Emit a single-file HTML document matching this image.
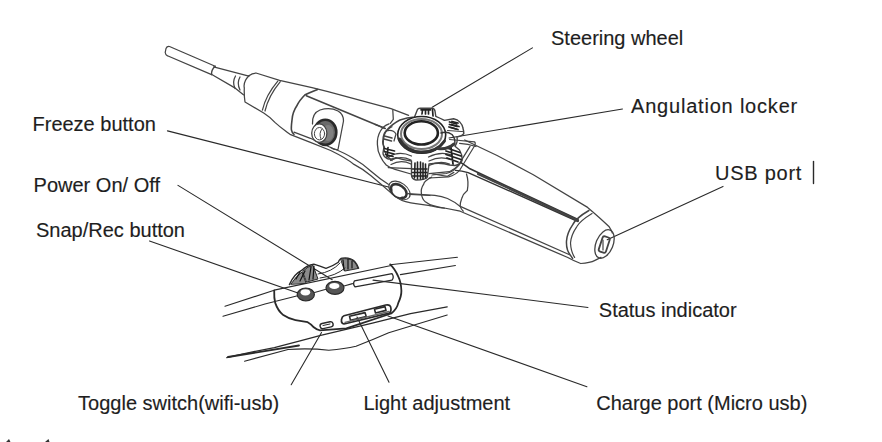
<!DOCTYPE html>
<html><head><meta charset="utf-8">
<style>
html,body{margin:0;padding:0;background:#fff;}
body{width:882px;height:442px;overflow:hidden;position:relative;}
svg{position:absolute;left:0;top:0;}
text{font-family:"Liberation Sans",sans-serif;font-size:20px;fill:#1e1e1e;stroke:#1e1e1e;stroke-width:0.15px;}
</style></head><body>
<svg width="882" height="442" viewBox="0 0 882 442">
<g fill="none" stroke="#2a2a2a" stroke-width="1.1" stroke-linecap="round" stroke-linejoin="round">
<!-- leader lines -->
<path d="M532.4,47.9 L432.2,107.2"/>
<path d="M622.5,109 L449,138"/>
<path d="M723,186.4 L607.2,239.7"/>
<path d="M167.5,130.9 L390.5,187.5" stroke-width="1.25"/>
<path d="M178,185.4 L332.2,279.7"/>
<path d="M149.5,241 L298,293"/>
<path d="M588,307.5 L373,280.1"/>
<path d="M321.5,332.5 L291.2,384.7"/>
<path d="M357,317 L389,382.3"/>
<path d="M388,315.9 L586.9,386.7"/>
<path d="M813.5,161.5 L813.5,183.5" stroke-width="1.4"/>
</g>

<!-- upper device -->
<g fill="none" stroke="#444" stroke-width="1.25" stroke-linecap="round" stroke-linejoin="round">
<!-- cable -->
<path d="M215.2,66.2 L169.5,46.5 Q167,46 166,48.5 L165.2,52.5 Q165.5,55 167.5,55.8 L211.6,74.6"/>
<path d="M215.2,66.2 Q211,70 211.6,74.6" stroke-width="1.4"/>
<!-- neck -->
<path d="M213.6,66.8 L248.9,76.2"/>
<path d="M211.8,74.5 L234.4,87.6 L243.4,94.8"/>
<path d="M235.5,76 Q232,82 235,88.5"/>
<path d="M240,77 Q236.5,83 240,90"/>
<!-- collar -->
<path d="M248.9,75.8 Q243,82 244.3,88 Q244,96 245,102 L263.7,113 Q270,117 274.9,122.4 Q280,127 284.9,130.5 Q288,133 290,134.3 L310.4,142.4 L330.7,150.5 Q346,158 354,164.4 Q363,169 371,175.8 Q382,185 390.4,192.4 Q395,197 398.5,198.5 Q402,201 405.6,201.6 Q411,203 415.8,203.6 L430,205.6"/>
<path d="M248.9,75.8 Q252,73 256,73 L279.6,80.3 L312,87.6 L328,91.7 L391,108.6 L408.6,115.3"/>
<path d="M277.8,81.2 Q266,95 262.4,110.2"/>
<path d="M280.3,81.7 Q268.5,96 265,111"/>
<!-- grip dark curve -->
<path d="M317.6,89.4 Q308,93 304.8,95 Q299,101 297.3,105 Q292.5,112 292,120 Q291,128 291.5,130.2 Q292,133 294,134.3" stroke-width="1.6"/>
<!-- side panel upper line -->
<path d="M306.3,95.8 L385.2,128.5" stroke-width="1.5"/>
<!-- panel front lower edge -->
<path d="M294,132.2 L310.4,138.3 L330.7,147.5 Q345,153 354,158.8 Q363,164 371,171.2 Q380,179 388.3,184.3"/>
<!-- bottom outline -->
<!-- camera button housing -->
<path d="M312.5,124 Q312,113 320,110 Q330,107 338,111 Q343.5,114 343.5,121 L338,149.5 Q334,150 330.7,147.5"/>
<ellipse cx="325.3" cy="132.3" rx="11" ry="12.6" fill="#6a6a6a" stroke="#2a2a2a" stroke-width="2.6"/>
<ellipse cx="328" cy="133" rx="5.5" ry="8" fill="#808080" stroke="none"/>
<ellipse cx="319.3" cy="133.2" rx="7.6" ry="9.3" fill="#fff" stroke-width="1.3"/>
<ellipse cx="319.5" cy="133.7" rx="5.1" ry="6.2" stroke-width="1"/>
<path d="M322,129 Q318.5,133 321,139" stroke-width="1"/>
<!-- freeze button -->
<ellipse cx="399.5" cy="190.4" rx="12" ry="7.5" stroke-width="1.1" transform="rotate(36 399.5 190.4)" fill="#fff"/>
<ellipse cx="398.8" cy="191" rx="8.8" ry="5.6" stroke-width="2.6" stroke="#333" transform="rotate(36 398.8 191)"/>
<ellipse cx="397.3" cy="193" rx="5.5" ry="3.2" fill="#fff" stroke="none" transform="rotate(36 397.3 193)"/>
<path d="M409.7,194.4 L430,195.5"/>
<!-- knob base frame -->
<path d="M392.8,110.2 L393.3,119.4 L390.3,123.4"/>
<path d="M375,124.4 L385.2,128.5"/>
<path d="M449.6,139.5 L474.5,141.8 Q476,143 474.5,146 L459.8,170 Q456,175 448.5,176.8 L429.2,178" stroke-width="1.2"/>
<path d="M470,146.3 L457.5,166.7 Q453,172 446.2,173.5 L432,175"/>
<!-- outer left saddle rings -->
<path d="M389,123.8 Q383,126 380.3,131.2 Q377,137 377.4,144.4 Q377.5,151 380.3,156.2 Q382.5,161 386.2,165 Q390,168 395,169.4 L411,174" stroke-width="1.3"/>
<path d="M392,126.8 Q387,129 384.7,134.1 Q383,139 383.2,144.4 Q383.5,150 386.2,154.7 Q388.5,158 392,160.6"/>
<!-- knob outer star -->
<path d="M414.5,117 L417.5,109.5 Q418,108.3 420,108.3 L432,108.1 Q434.5,108.3 435,111 L435.8,116.3 Q440,118 444.4,120.4 L453.6,118.8 Q457.5,119.5 459.7,121.9 Q462.5,125 462.8,127.5 Q463.8,131 463.8,133.6 Q462,136 457,137 Q458,142 455,146.3 L459.5,150 Q462.5,155 462.2,160 Q461,164.5 455,165.5 L449.6,165 Q441,162 429,164 L427.4,177 Q426,180 416,180 Q411.5,179 411.5,175 L411.5,161 Q403,160 396,157.6 Q391,160 387,158.5 Q383,156 383,153 Q383,149 384.5,147.4 Q382,143 383,140 Q383,134 386,131 Q392,124 400,120 Q407,117.5 414.5,117 Z" stroke-width="1.4"/>
<!-- scallops -->
<path d="M388.5,157 Q399,150.5 411.5,156"/>
<path d="M390.5,160.5 Q400,155 411,160"/>
<path d="M391,164.5 Q401,159 411,164"/>
<path d="M388.2,167.6 L411.7,168.6" stroke-width="1.2"/>
<path d="M428.5,157 Q440,151 452,155"/>
<path d="M429,161 Q440,155.5 450.5,159.5"/>
<path d="M429,165.5 Q440,160 449.5,164"/>
<path d="M429,173.7 L449.4,171.7 Q455,169 459.6,164.5" stroke-width="1.2"/>
<path d="M386,131 Q393,129 396,134 L394,141"/>
<!-- tab ribs -->
<path d="M421,109.8 L430.5,109.8 M422.5,110 L422,114 M425.5,110 L425.5,114 M428.5,110 L428.5,114 M432.5,109.5 L433,116" stroke-width="1.7" stroke="#222"/>
<path d="M449.5,122 L456.7,124 M449.5,124.5 L457,126.5 M449,127 L456,129" stroke-width="1.8" stroke="#222"/>
<path d="M384.5,136 L392,138 M384,139 L391.5,141" stroke-width="1.5"/>
<path d="M384.5,148.5 L394.5,151 M384.5,151.5 L394,154 M385.5,154.5 L393,156.5 M388,147.5 L387,157" stroke-width="1.7" stroke="#222"/>
<path d="M415,163 L414.5,178 M417.5,162 L417.5,179 M420.5,162 L420.5,179 M423,163 L423,179 M425.5,164 L425.5,178" stroke-width="1.6" stroke="#222"/>
<path d="M412.5,169 L427,169 M412.5,172.5 L427,172.5 M412.5,176 L427,176" stroke-width="1.4" stroke="#222"/>
<path d="M447,148 L460,152.5 M446,151 L461,156 M446,154.5 L461,159.5 M447,158 L458,162 M451,147.5 L453,164" stroke-width="1.8" stroke="#222"/>
<!-- cap -->
<ellipse cx="421.7" cy="134.8" rx="24" ry="18.3" stroke-width="1.6" stroke="#222"/>
<ellipse cx="421.5" cy="134" rx="20.5" ry="15" stroke-width="2" stroke="#777"/>
<path d="M399.5,139 Q406,151.5 421,152 Q437,152 444.5,141" stroke-width="3" stroke="#333"/>
<ellipse cx="421.3" cy="132.9" rx="16.6" ry="11.6" fill="#fff" stroke-width="2.6" stroke="#222"/>
<!-- angulation locker lobe -->
<path d="M441,133 Q447,131 452,134.5 Q456,139 454.5,144.5" stroke-width="1.4" stroke="#333"/>
<path d="M438,148.5 Q447,150 454,144" stroke-width="3" stroke="#3a3a3a"/>
<path d="M452,121.5 L458,123 M451.5,124.5 L459,126.5 M451,127.5 L458,129.5" stroke-width="1.8" stroke="#222"/>
<path d="M447.5,130.5 L462.8,131.6" stroke-width="1"/>
<!-- handle -->
<path d="M464.7,140 Q480,147.5 497.1,155.5 L533.3,174.8 L587.6,207.4 Q601,218.7 609.2,226.8 Q612,231 612.3,233"/>
<path d="M459.6,143.4 Q468,144 476,146.5"/>
<path d="M460.9,162.7 Q466,166 470,168.8 L578,219.5" stroke-width="1.6" stroke="#333"/>
<path d="M455.4,170.4 Q462,171 468.1,172.6 L578,221.5" stroke-width="1.4" stroke="#333"/>
<path d="M478,174 L578,220.5" stroke-width="2.2" stroke="#444"/>
<path d="M430,205.6 Q440,208 444.3,208 L460.2,211.2 L567.8,257.5 Q574,261 580.7,263.5 Q590,263 595,260.4 L601,257.4"/>
<path d="M407.9,193.7 L434.8,195.3 Q442,196 447.5,198.5 Q455,202 460.2,206.4 L569,254.5"/>
<path d="M431.7,177.1 Q424,181 423.7,184.2 Q420.5,189 421.4,193.7 Q422,199 425.3,201.7 Q429,204.5 433.2,205.6 Q439,207.5 444.3,208"/>
<path d="M466.5,174 Q469,182 467.3,190.6 Q463,194 461.7,198.5 Q460,203 460.2,206.4 Q461,209 463.3,211.2"/>
<path d="M433.2,174 L447.5,176.3 L453.8,172.4"/>
<path d="M588.9,210.5 Q576,218 572.6,224.8 Q567,233 566.5,241 Q566,250 570.5,255.4 L572.6,258.4" stroke-width="1.5"/>
<path d="M592,213.6 Q580,221 576.7,226.8 Q571,235 570.5,243 Q571,252 574.6,257.4" stroke-width="1.2"/>
<ellipse cx="604.5" cy="244" rx="8.5" ry="15" transform="rotate(22 604.5 244)" stroke-width="1.3"/>
<rect x="600.5" y="236.5" width="7.5" height="16" rx="2" stroke-width="1.8" transform="rotate(18 604 244.5)"/>
<path d="M603,240 L603,250" stroke-width="1.2"/>
</g>

<!-- lower device -->
<g fill="none" stroke="#2a2a2a" stroke-width="1.1" stroke-linecap="round" stroke-linejoin="round">
<!-- upper body lines -->
<path d="M225,306.3 L274.2,290.2"/>
<path d="M223,316.3 L265,304 L297.6,295.8"/>
<path d="M314.6,292.5 L326,289.3"/>
<path d="M344,286 L352.5,283.6"/>
<path d="M274.2,290.2 L391.2,265.5" stroke-width="1.2"/>
<path d="M390.2,264.8 L457.4,257.3"/>
<path d="M400.4,274.6 L455.4,265.5"/>
<!-- knob silhouette -->
<path d="M289.4,284.6 Q294,274 301.6,270.4 Q307,265 313.8,264.2 Q320,266 326,268.3 Q333,266 338.3,262.2 Q340,258 342.3,258.1 Q350,257 354.5,261.2 Q357,264 358.6,268.3" stroke-width="1.4"/>
<path d="M291,284 Q296,276 302,272 L306,283 Z M303,271 Q308,266 313,265.5 L318,279 L307,282 Z" fill="#8a8a8a" stroke-width="1"/>
<path d="M341,259 Q349,257.5 354,261.5 Q357,265 358,268.5 L345,271 Z" fill="#8a8a8a" stroke-width="1"/>
<path d="M296,279 L300,272 M300,281 L305,271 M309,280 L311,267 M313,279 L314,266 M344,270 L343,260 M348,269 L348,259 M352,268 L352,261" stroke="#111" stroke-width="1.2"/>
<path d="M318,274 Q332,272 340,263 M320,278 Q336,276 345,268" stroke-width="1"/>
<!-- panel outline -->
<path d="M274.2,290.7 Q274,298 275.2,302.9 Q278,311 283.3,315.1 Q289,319 295.5,320.2 L307.7,322.2 Q311,324 313.8,327.3 Q317,330 320,330.4 L346.4,328.3 L391.2,313.5 Q397,309 398.3,302.9 Q401.5,296 401.4,290.7 Q401,282 398.3,276.7 Q395,269 390.2,264.4" stroke-width="1.8"/>
<!-- buttons -->
<ellipse cx="305.8" cy="294.5" rx="8.6" ry="6.5" fill="#555" stroke="#2a2a2a" stroke-width="1.2"/>
<ellipse cx="305.4" cy="292.3" rx="4.8" ry="3.1" fill="#fff" stroke="none"/>
<ellipse cx="335" cy="287.8" rx="9" ry="6.5" fill="#555" stroke="#2a2a2a" stroke-width="1.2"/>
<ellipse cx="334.3" cy="285.9" rx="5.1" ry="3" fill="#fff" stroke="none"/>
<!-- status indicator -->
<path d="M354.5,280.8 Q352.5,284 355,286.8 L392,280.2 Q394.5,277 392,273.6 Z" stroke-width="1.3"/>
<!-- toggle -->
<rect x="320" y="322.6" width="13.2" height="5.2" rx="2.5" transform="rotate(-12 326.6 325.2)" stroke-width="1.4"/>
<path d="M323,325.5 L330,324" stroke-width="1"/>
<!-- charge port -->
<path d="M344,315.8 L385.7,305 Q391,304 391,309 Q391,312.5 389.3,313.1 L344,324 Q341,323.5 341.5,319.5 Q342,316.5 344,315.8 Z" stroke-width="1.7"/>
<path d="M349.5,316.3 L365,312.6 L366.2,316.6 L350.5,320.4 Z" stroke-width="1.6"/>
<path d="M374.5,309.2 L385,306.6 L386,310.4 L375.5,313 Z" stroke-width="1.6"/>
<path d="M345,322.3 L389,311.5" stroke-width="1.3" stroke="#666"/>
<!-- lower body lines -->
<path d="M226.8,357.7 Q250,352 274.4,347.6 Q300,341 320.7,335.4 L372.4,323.1 L410.5,313.6 L447.2,306.8" stroke-width="1.3"/>
<path d="M228,357 L299,345.5" stroke-width="1.8"/>
<path d="M244.5,361.2 L288,349.5 Q310,348 328.8,350.3 Q345,349 356,346.3 Q372,340 388.7,332.7 L447.2,315"/>
</g>
<path d="M6,442 L9,439 L10.5,442 Z M45,442 L48.5,439 L49.5,442 Z" fill="#333"/>

<text x="551" y="44.5">Steering wheel</text>
<text x="631" y="112.5" letter-spacing="0.8">Angulation locker</text>
<text x="715" y="179.5" letter-spacing="0.75">USB port</text>
<text x="32.5" y="130.5">Freeze button</text>
<text x="33.6" y="191.5">Power On/ Off</text>
<text x="36" y="237.2">Snap/Rec button</text>
<text x="598.8" y="317.2">Status indicator</text>
<text x="78.1" y="409.5">Toggle switch(wifi-usb)</text>
<text x="363.4" y="410">Light adjustment</text>
<text x="596.2" y="409.5">Charge port (Micro usb)</text>
</svg>
</body></html>
